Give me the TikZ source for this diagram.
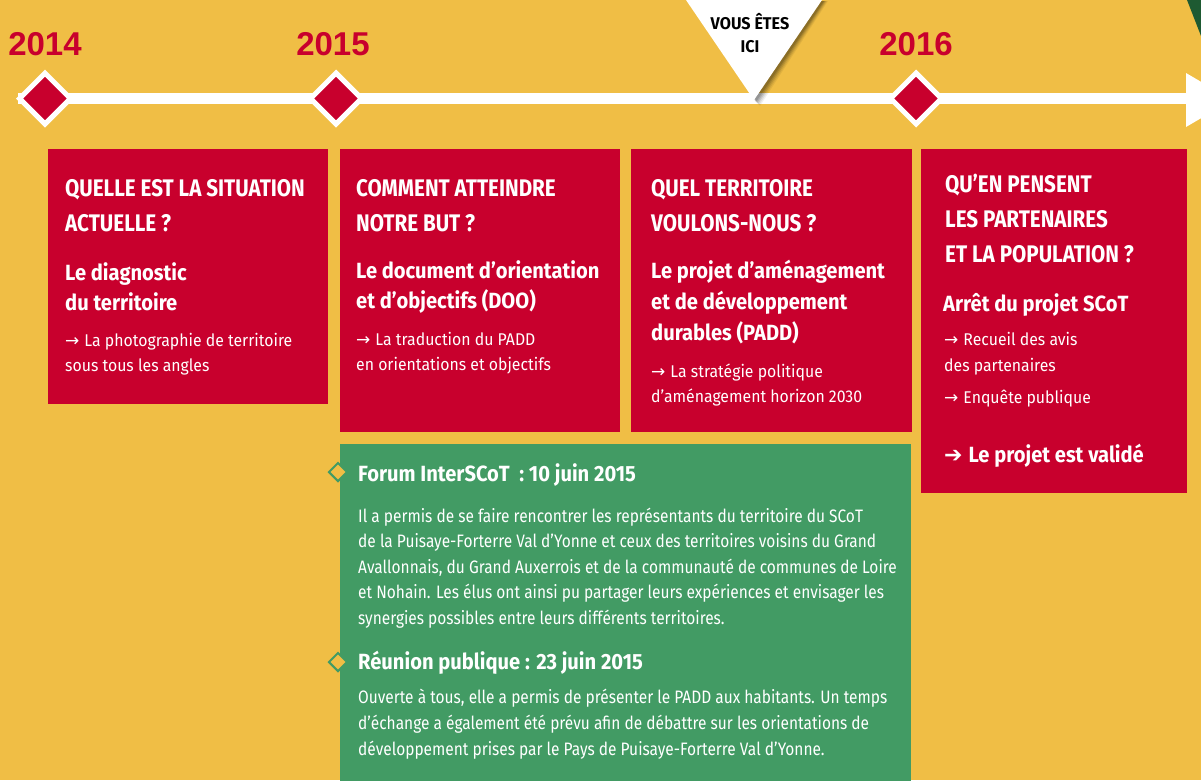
\documentclass[tikz,border=0pt]{standalone}
\usepackage{fontspec}
\usetikzlibrary{shapes.geometric}
\setmainfont{Fira Sans}
\newfontfamily\condT{Fira Sans}[FakeStretch=0.86]
\newfontfamily\condS{Fira Sans}[FakeStretch=0.915]
\newfontfamily\condM{Fira Sans}[FakeStretch=0.93]
\newfontfamily\condB{Fira Sans}[FakeStretch=0.86]
\newfontfamily\condV{Fira Sans}[FakeStretch=0.95]
\newfontfamily\yearf{Liberation Sans}
\newfontfamily\dv{DejaVu Sans}
\definecolor{bgY}{HTML}{F0BE45}
\definecolor{redC}{HTML}{C8002D}
\definecolor{grnC}{HTML}{429B64}
\definecolor{dkG}{HTML}{1E5A32}
\newcommand{\arr}{{\dv\fontsize{17}{17}\selectfont →}\hspace{5pt}}
\newcommand{\bigarr}{{\dv\bfseries\fontsize{22}{22}\selectfont ➔}\hspace{6pt}}
\newcommand{\ml}[2]{\vtop{\baselineskip=#1pt\lineskiplimit=-100pt\lineskip=0pt #2}}
\tikzset{
  redbox/.style={rectangle, fill=redC, inner sep=0pt, anchor=north west},
  grnbox/.style={rectangle, fill=grnC, inner sep=0pt, anchor=north west},
  tx/.style={anchor=base west, inner sep=0pt, text=white},
  ttl/.style={tx, font=\condT\bfseries\fontsize{24}{35}\selectfont},
  sub/.style={tx, font=\condS\bfseries\fontsize{22}{30}\selectfont},
  sml/.style={tx, font=\condM\fontsize{17}{25}\selectfont},
  body/.style={tx, font=\condB\fontsize{18}{25.7}\selectfont},
  year/.style={anchor=base, inner sep=0pt, text=redC, font=\yearf\bfseries\fontsize{33}{33}\selectfont},
  milestone/.style={diamond, fill=redC, draw=white, line width=5pt, inner sep=0pt, minimum width=53pt, minimum height=53pt},
  bullet/.style={diamond, fill=bgY, draw=grnC, line width=2pt, inner sep=0pt, minimum width=19pt, minimum height=19pt},
}
\begin{document}
\begin{tikzpicture}[x=1pt,y=-1pt]
\fill[bgY] (0,0) rectangle (1201,780);
\useasboundingbox (0,0) rectangle (1201,780);
% dark green corner
\fill[dkG] (1187,0) -- (1201,0) -- (1201,36) -- cycle;
% timeline
\coordinate (tlA) at (18,98.5);
\coordinate (tlB) at (1190,98.5);
\coordinate (hT) at (1186,73);
\coordinate (hB) at (1186,127);
\coordinate (hP) at (1232,100);
\draw[white, line width=11pt] (tlA) -- (tlB);
\fill[white] (hT) -- (hP) -- (hB) -- cycle;
% you are here
\coordinate (tr1) at (686,0);
\coordinate (tr2) at (822,0);
\coordinate (tr3) at (754,100);
\foreach \d/\o in {6/0.06,5/0.08,4/0.1,3/0.12,2/0.14}{
  \fill[black, opacity=\o] ([xshift=\d pt, yshift=-1pt]tr1) -- ([xshift=\d pt,yshift=-1pt]tr2) -- ([xshift=\d pt, yshift=-\d pt]tr3) -- cycle;
}
\fill[white] (tr1) -- (tr2) -- (tr3) -- cycle;
\node[anchor=base, inner sep=0pt, font=\condV\bfseries\fontsize{17}{23}\selectfont] (ici) at (750,29) {\ml{23}{\hbox to 0pt{\hss VOUS ÊTES\hss}\hbox to 0pt{\hss ICI\hss}}};
% milestones
\node[milestone] (m14) at (45,98.5) {};
\node[milestone] (m15) at (336,98.5) {};
\node[milestone] (m16) at (916,98.5) {};
\node[year] (y14) at (45,55) {2014};
\node[year] (y15) at (333,55) {2015};
\node[year] (y16) at (916,55) {2016};
% boxes
\node[redbox, minimum width=280pt, minimum height=255pt] (b1) at (48,149) {};
\node[redbox, minimum width=280pt, minimum height=283pt] (b2) at (340,149) {};
\node[redbox, minimum width=281pt, minimum height=283pt] (b3) at (631,149) {};
\node[redbox, minimum width=266pt, minimum height=344pt] (b4) at (921,149) {};
\node[grnbox, minimum width=571pt, minimum height=340pt] (g) at (340,444) {};
% box 1
\node[ttl] (t1) at (65,196) {\ml{35}{\hbox{QUELLE EST LA SITUATION}\hbox{ACTUELLE ?}}};
\node[sub] (s1) at (65,280) {\ml{30}{\hbox{Le diagnostic}\hbox{du territoire}}};
\node[sml] (d1) at (65,346) {\ml{25}{\hbox{\arr La photographie de territoire}\hbox{sous tous les angles}}};
% box 2
\node[ttl] (t2) at (356,196) {\ml{35}{\hbox{COMMENT ATTEINDRE}\hbox{NOTRE BUT ?}}};
\node[sub] (s2) at (356,278) {\ml{30}{\hbox{Le document d’orientation}\hbox{et d’objectifs (DOO)}}};
\node[sml] (d2) at (356,345) {\ml{25}{\hbox{\arr La traduction du PADD}\hbox{en orientations et objectifs}}};
% box 3
\node[ttl] (t3) at (651,196) {\ml{35}{\hbox{QUEL TERRITOIRE}\hbox{VOULONS-NOUS ?}}};
\node[sub] (s3) at (651,278) {\ml{31}{\hbox{Le projet d’aménagement}\hbox{et de développement}\hbox{durables (PADD)}}};
\node[sml] (d3) at (651,377) {\ml{25}{\hbox{\arr La stratégie politique}\hbox{d’aménagement horizon 2030}}};
% box 4
\node[ttl] (t4) at (945,192) {\ml{35}{\hbox{QU’EN PENSENT}\hbox{LES PARTENAIRES}\hbox{ET LA POPULATION ?}}};
\node[sub] (s4) at (943,311) {Arrêt du projet SCoT};
\node[sml] (d4) at (944,345) {\ml{26}{\hbox{\arr Recueil des avis}\hbox{des partenaires}}};
\node[sml] (e4) at (944,403) {\arr Enquête publique};
\node[sub] (v4) at (944,462) {\bigarr Le projet est validé};
% green box
\node[bullet] (k1) at (338,472) {};
\node[bullet] (k2) at (338,662) {};
\node[sub] (h1) at (358,481) {Forum InterSCoT\ \ : 10 juin 2015};
\node[body] (p1) at (358,522) {\ml{25.6}{%
\hbox{Il a permis de se faire rencontrer les représentants du territoire du SCoT}%
\hbox{de la Puisaye-Forterre Val d’Yonne et ceux des territoires voisins du Grand}%
\hbox{Avallonnais, du Grand Auxerrois et de la communauté de communes de Loire}%
\hbox{et Nohain. Les élus ont ainsi pu partager leurs expériences et envisager les}%
\hbox{synergies possibles entre leurs différents territoires.}}};
\node[sub] (h2) at (358,669) {Réunion publique : 23 juin 2015};
\node[body] (p2) at (358,703) {\ml{26}{%
\hbox{Ouverte à tous, elle a permis de présenter le PADD aux habitants. Un temps}%
\hbox{d’échange a également été prévu afin de débattre sur les orientations de}%
\hbox{développement prises par le Pays de Puisaye-Forterre Val d’Yonne.}}};
\end{tikzpicture}
\end{document}
